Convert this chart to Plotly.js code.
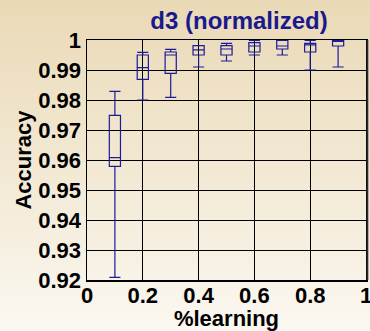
<!DOCTYPE html>
<html>
<head>
<meta charset="utf-8">
<script src="https://cdn.plot.ly/plotly-3.0.1.min.js"></script>
<style>
  html, body { margin: 0; padding: 0; }
  body {
    width: 370px; height: 331px; overflow: hidden;
    background: linear-gradient(to bottom, #ead9b6 0%, #f2e8d3 50%, #fbf8f1 100%);
  }
  #chart { width: 370px; height: 331px; }
</style>
</head>
<body>
<div id="chart"></div>
<script>
// Fraction of data used for learning
const learning = [0.1, 0.2, 0.3, 0.4, 0.5, 0.6, 0.7, 0.8, 0.9];

// Accuracy distribution per learning fraction
const lowerWhisker = [0.9209, 0.9800, 0.9809, 0.9910, 0.9930, 0.9950, 0.9950, 0.9900, 0.9910];
const q1           = [0.9579, 0.9869, 0.9889, 0.9950, 0.9950, 0.9960, 0.9970, 0.9960, 0.9980];
const medians      = [0.9608, 0.9908, 0.9950, 0.9967, 0.9970, 0.9980, 0.9980, 0.9984, 0.9999];
const q3           = [0.9749, 0.9950, 0.9960, 0.9981, 0.9981, 0.9991, 0.9999, 0.9989, 0.9999];
const upperWhisker = [0.9829, 0.9959, 0.9969, 0.9981, 0.9989, 0.9999, 0.9999, 0.9999, 0.9999];

const yTicks = [0.92, 0.93, 0.94, 0.95, 0.96, 0.97, 0.98, 0.99, 1];
const yTickText = ['0.92', '0.93', '0.94', '0.95', '0.96', '0.97', '0.98', '0.99', '1'];
const xTicks = [0, 0.2, 0.4, 0.6, 0.8, 1];
const xTickText = ['0', '0.2', '0.4', '0.6', '0.8', '1'];

const boxColor = '#1c1c9a';
const family = 'Liberation Sans, Arial, sans-serif';
const labelFont = { family: family, size: 22, color: '#000', weight: 'bold' };
const axisTitleFont = { family: family, size: 22, color: '#000', weight: 'bold' };

const trace = {
  type: 'box',
  x: learning,
  q1: q1,
  median: medians,
  q3: q3,
  lowerfence: lowerWhisker,
  upperfence: upperWhisker,
  width: 0.04,
  whiskerwidth: 1,
  line: { color: boxColor, width: 1.2 },
  fillcolor: 'rgba(0,0,0,0)',
  boxpoints: false,
  hoverinfo: 'skip',
  showlegend: false
};

const layout = {
  width: 370,
  height: 331,
  margin: { l: 87, r: 4, t: 40, b: 51 },
  paper_bgcolor: 'rgba(0,0,0,0)',
  plot_bgcolor: 'rgba(0,0,0,0)',
  title: {
    text: 'd3 (normalized)',
    font: { family: family, size: 24, color: '#1a1a8c', weight: 'bold' },
    x: 0.646, xanchor: 'center',
    y: 0.937, yanchor: 'middle'
  },
  xaxis: {
    range: [0, 1],
    tickvals: xTicks,
    ticktext: xTickText,
    ticks: '',
    ticklabeloverflow: 'allow',
    ticklabelstandoff: -5,
    tickfont: labelFont,
    showgrid: true,
    gridcolor: '#000',
    gridwidth: 1,
    zeroline: false,
    showline: true,
    linecolor: '#000',
    linewidth: 1.5,
    mirror: true,
    title: { text: '%learning', font: axisTitleFont, standoff: 0 }
  },
  yaxis: {
    range: [0.92, 1],
    tickvals: yTicks,
    ticktext: yTickText,
    ticks: '',
    ticklabeloverflow: 'allow',
    tickfont: labelFont,
    showgrid: true,
    gridcolor: '#000',
    gridwidth: 1,
    zeroline: false,
    showline: true,
    linecolor: '#000',
    linewidth: 1.5,
    mirror: true,
    title: { text: 'Accuracy', font: axisTitleFont, standoff: 0 }
  },
  shapes: [
    // soft shadow along the right edge of the frame
    { type: 'rect', xref: 'paper', yref: 'paper', x0: 1.002, x1: 1.011, y0: 0, y1: 1,
      line: { width: 0 }, fillcolor: 'rgba(90,90,90,0.45)' }
  ]
};

Plotly.newPlot('chart', [trace], layout, { displayModeBar: false, staticPlot: true });
</script>
</body>
</html>
